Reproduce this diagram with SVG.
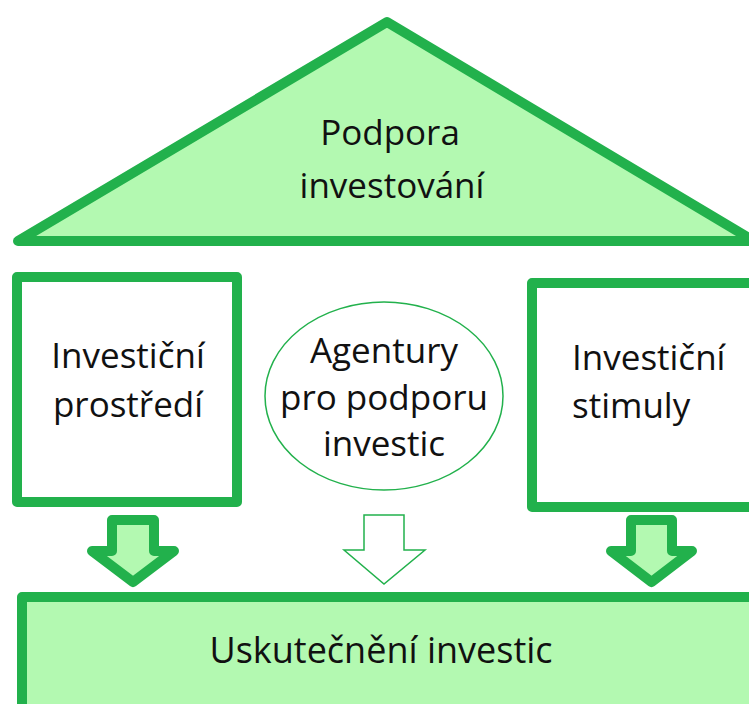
<svg xmlns="http://www.w3.org/2000/svg" width="749" height="704" viewBox="0 0 749 704">
  <style>
    .thick { stroke: #22b14c; stroke-width: 10; stroke-linejoin: round; }
    .light { fill: #b3f9b1; }
    .white { fill: #ffffff; }
    .thin { stroke: #22b14c; stroke-width: 1.5; fill: #ffffff; }
    .t { font-family: "Open Sans", "Liberation Sans", sans-serif; font-size: 35px; fill: #111111; text-anchor: middle; }
    .ts { text-anchor: start; }
  </style>
  <rect width="749" height="704" fill="#ffffff"/>

  <g id="podpora-investovani">
    <polygon class="thick light" points="18,241 387,22 754,241"/>
    <text class="t" x="390" y="145">Podpora</text>
    <text class="t" x="392" y="198">investování</text>
  </g>

  <g id="investicni-prostredi">
    <rect class="thick white" x="17" y="277" width="220" height="225"/>
    <text class="t" x="128" y="368">Investiční</text>
    <text class="t" x="128" y="417">prostředí</text>
  </g>

  <g id="agentury">
    <ellipse class="thin" cx="384" cy="396" rx="119" ry="94"/>
    <text class="t" x="384" y="363">Agentury</text>
    <text class="t" x="384" y="410">pro podporu</text>
    <text class="t" x="384" y="456">investic</text>
  </g>

  <g id="investicni-stimuly">
    <rect class="thick white" x="532" y="283" width="240" height="224"/>
    <text class="t ts" x="572" y="370">Investiční</text>
    <text class="t ts" x="572" y="418">stimuly</text>
  </g>

  <g id="uskutecneni-investic">
    <rect class="thick light" x="22" y="597" width="740" height="130"/>
    <text class="t" x="381" y="663" style="font-size:36px">Uskutečnění investic</text>
  </g>

  <g id="connectors">
    <path class="thick light" d="M112,520 H154 V551 H174 L133,582 L92,551 H112 Z"/>
    <path class="thin" d="M364,515 H404 V550 H425 L384,584 L344,550 H364 Z"/>
    <path class="thick light" d="M631,520 H672 V551 H692 L651.5,582 L611,551 H631 Z"/>
  </g>
</svg>
